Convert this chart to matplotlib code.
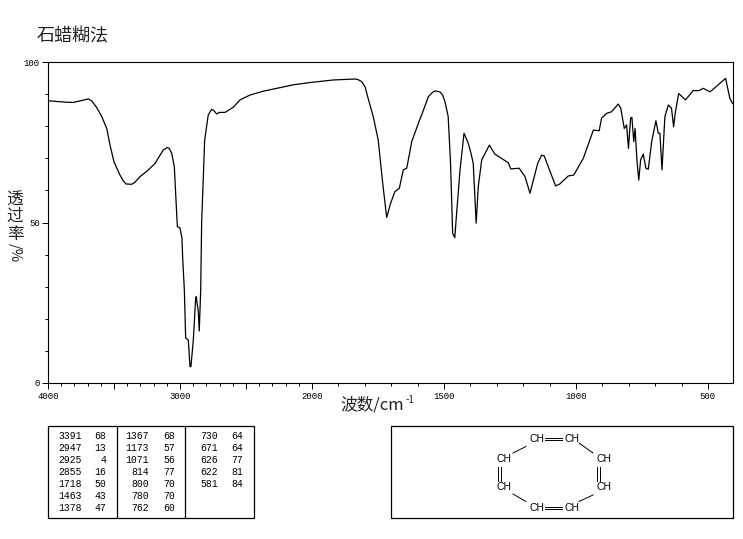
import numpy as np
import matplotlib.pyplot as plt

plt.rcParams['font.family'] = ['Noto Sans CJK SC', 'DejaVu Sans']

# Spectrum
wavenumber = [4000, 3990, 3871, 3808, 3695, 3669, 3631, 3593, 3555, 3530, 3500, 3455, 3430, 3409, 3366, 3340, 3303, 3250, 3189,
              3127, 3110, 3096, 3080, 3063, 3043, 3038, 3020, 3000, 2985, 2980, 2967, 2957, 2937, 2924, 2917, 2899,
              2881, 2877, 2861, 2854, 2843, 2836, 2813, 2811, 2786, 2760, 2742, 2722, 2702, 2659, 2596,
              2545, 2470, 2370, 2267, 2140, 2015, 1919, 1837, 1825, 1812, 1799, 1785, 1768, 1749, 1732, 1717, 1702, 1686, 1669,
              1654, 1641, 1622, 1597, 1580, 1559, 1545, 1534, 1515, 1505, 1496, 1484, 1475, 1467, 1459, 1452, 1439, 1424,
              1408, 1398, 1389, 1378, 1370, 1357, 1328, 1307, 1256, 1247, 1215, 1193, 1174, 1145, 1130,
              1120, 1105, 1077, 1061, 1029, 1008, 972, 934, 912, 903, 884, 865, 840, 830, 817,
              808, 801, 793, 788, 781, 776, 769, 762, 755, 745, 735, 726, 713, 697, 688,
              682, 674, 663, 650, 638, 630, 624, 611, 585, 556, 533, 518, 492, 433, 417,
              407, 405]
transmittance = [88.0, 87.9, 87.5, 87.4, 88.5, 87.9, 85.8, 83.0, 79.3, 74.1, 68.9, 64.8, 63.0, 62.0, 61.9, 62.6, 64.3, 66.0, 68.4,
                 72.6, 73.0, 73.4, 73.0, 71.6, 67.4, 63.2, 48.7, 48.3, 45.2, 39.3, 29.0, 14.0, 13.4, 5.1, 5.1, 13.4,
                 26.5, 26.9, 22.2, 16.2, 29.0, 49.8, 75.7, 76.2, 83.5, 85.3, 84.8, 83.8, 84.3, 84.3, 85.9,
                 88.2, 89.7, 90.9, 91.8, 92.9, 93.6, 94.4, 94.7, 94.5, 93.9, 92.3, 88.0, 83.0, 75.7, 62.2, 51.6, 56.0, 59.6, 60.7,
                 66.4, 66.9, 75.2, 80.9, 84.5, 89.2, 90.4, 91.0, 90.7, 89.7, 87.6, 83.0, 68.4, 46.6, 45.3, 52.9, 66.4, 77.8,
                 74.7, 71.7, 68.4, 49.8, 61.2, 69.5, 74.1, 71.3, 68.6, 66.7, 66.9, 64.3, 59.1, 68.4, 71.0,
                 70.7, 67.4, 61.4, 62.0, 64.5, 64.8, 70.0, 78.8, 78.6, 82.5, 84.0, 84.5, 86.9, 85.6, 79.3,
                 80.4, 73.1, 82.5, 82.8, 75.2, 79.3, 69.5, 63.2, 69.5, 71.3, 66.9, 66.6, 75.2, 81.7, 77.8,
                 77.8, 66.4, 83.0, 86.6, 85.6, 79.8, 84.0, 90.2, 88.2, 91.1, 91.1, 91.8, 90.7, 94.9, 88.7,
                 87.1, 87.0]

# Peak table, one pair of lists per column
peaks_wn = [[3391, 2947, 2925, 2855, 1718, 1463, 1378],
            [1367, 1173, 1071, 814, 800, 780, 762],
            [730, 671, 626, 622, 581]]
peaks_t = [[68, 13, 4, 16, 50, 43, 47],
           [68, 57, 56, 77, 70, 70, 60],
           [64, 64, 77, 81, 84]]

x_major = [4000, 3500, 3000, 2500, 2000, 1500, 1000, 500]
x_labels = ['4000', '', '3000', '', '2000', '1500', '1000', '500']
y_major = [0, 50, 100]

W, H = 743, 539
MONO = 'Liberation Mono'


def forward(x):
    # Axis is compressed by 2 above 2000 cm-1
    x = np.asarray(x, dtype=float)
    return np.where(x > 2000, 2000 + (x - 2000) / 2, x)


def inverse(x):
    x = np.asarray(x, dtype=float)
    return np.where(x > 2000, 2000 + (x - 2000) * 2, x)


fig = plt.figure(figsize=(W / 100, H / 100), dpi=100)

# Spectrum
ax = fig.add_axes([48 / W, 1 - 383 / H, (733 - 48) / W, (383 - 62) / H])
ax.set_xscale('function', functions=(forward, inverse))
ax.plot(wavenumber, transmittance, color='black', lw=0.9)
ax.set_xlim(4000, 405)
ax.set_ylim(0, 100)
ax.set_xticks(x_major)
ax.set_xticklabels(x_labels, family=MONO, fontsize=6.5)
ax.set_xticks([t for t in range(500, 4000, 100) if t not in x_major], minor=True)
ax.set_yticks(y_major)
ax.set_yticklabels([str(v) for v in y_major], family=MONO, fontsize=6.5)
ax.set_yticks([v for v in range(0, 101, 10) if v not in y_major], minor=True)
ax.tick_params(axis='x', which='major', length=4.5, width=0.7, pad=2)
ax.tick_params(axis='x', which='minor', length=2, width=0.7)
ax.tick_params(axis='y', which='major', length=4, width=0.7, pad=2)
ax.tick_params(axis='y', which='minor', length=2, width=0.7)
for spine in ax.spines.values():
    spine.set_linewidth(0.8)

# Overlay in pixel coordinates for the boxes and the labels
over = fig.add_axes([0, 0, 1, 1], facecolor='none')
over.set_xlim(0, W)
over.set_ylim(H, 0)
over.axis('off')

over.text(37, 36, '石蜡糊法', fontsize=13, color='#222222', va='center', ha='left')
over.text(340, 405, '波数/cm', fontsize=12, color='#222222', va='center', ha='left')
over.text(406, 400, '-1', fontsize=7, color='#222222', va='center', ha='left')
for label, ypos in zip('透过率', [200, 216, 234]):
    over.text(15, ypos, label, fontsize=12, color='#222222', va='center', ha='center')
over.text(15, 253, '/%', fontsize=10.5, color='#222222', va='center', ha='center', rotation=270)

# Peak table
over.add_patch(plt.Rectangle((48, 426), 206, 92, fill=False, ec='black', lw=0.9))
over.plot([117, 117], [426, 518], color='black', lw=0.9)
over.plot([185, 185], [426, 518], color='black', lw=0.9)
row_y = [436, 448, 460, 472, 484, 496, 508]
wn_right = [82, 149, 218]
t_right = [106, 175, 243]
for col in range(3):
    for i in range(len(peaks_wn[col])):
        over.text(wn_right[col], row_y[i], str(peaks_wn[col][i]), family=MONO, fontsize=7,
                  ha='right', va='center')
        over.text(t_right[col], row_y[i], str(peaks_t[col][i]), family=MONO, fontsize=7,
                  ha='right', va='center')

# Structure box
over.add_patch(plt.Rectangle((391, 426), 342, 92, fill=False, ec='black', lw=0.9))
ch_labels = [(537, 439), (572, 439), (504, 459), (504, 487), (604, 459), (604, 487), (537, 508), (572, 508)]
for cx, cy in ch_labels:
    over.text(cx, cy, 'CH', family='Liberation Sans', fontsize=7.5, ha='center', va='center')
bonds = [((545, 562), (437.5, 437.5)), ((545, 562), (440, 440)),
         ((545, 562), (506.5, 506.5)), ((545, 562), (509, 509)),
         ((498, 498), (467, 481)), ((500.5, 500.5), (467, 481)),
         ((597, 597), (467, 481)), ((599.5, 599.5), (467, 481)),
         ((513, 526), (453, 446.5)), ((579, 593), (443, 453)),
         ((513, 526), (494, 501.5)), ((579, 593), (501.5, 495))]
for bx, by in bonds:
    over.plot(bx, by, color='black', lw=0.7)

fig.savefig('out.png', dpi=100)
